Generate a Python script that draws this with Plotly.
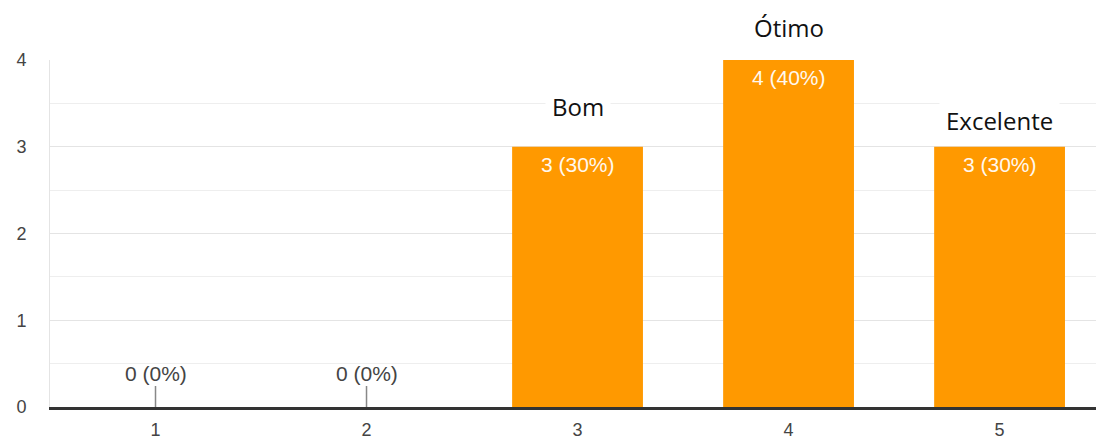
import plotly.graph_objects as go

# Survey answers on a 1-5 scale
categories = [1, 2, 3, 4, 5]
counts = [0, 0, 3, 4, 3]
rating_names = {3: "Bom", 4: "Ótimo", 5: "Excelente"}
name_shift = {3: 40, 4: 33, 5: 26}  # vertical offset (px) of each rating name above its bar
y_ticks = [0, 1, 2, 3, 4]

total = sum(counts)
labels = [f"{c} ({round(100 * c / total)}%)" for c in counts]

ORANGE = "#ff9900"
SANS = "Liberation Sans, Arial, sans-serif"
AXIS_FONT = dict(family=SANS, size=18, color="#444444")

fig = go.Figure()
fig.add_trace(go.Bar(
    x=categories,
    y=counts,
    width=0.62,
    marker=dict(color=ORANGE, line=dict(width=0)),
    hoverinfo="skip",
))

annotations = []
for cat, cnt, lab in zip(categories, counts, labels):
    if cnt > 0:
        # count/percentage written in white just inside the top of the bar
        annotations.append(dict(
            x=cat, y=cnt, xref="x", yref="y", text=lab, showarrow=False,
            yanchor="top", yshift=-4,
            font=dict(family=SANS, size=21, color="#fff8ee"),
        ))
    else:
        # empty category: label sits above a short marker stub
        annotations.append(dict(
            x=cat, y=cnt, xref="x", yref="y", text=lab, showarrow=True,
            arrowhead=0, arrowwidth=1.5, arrowcolor="#888888",
            ax=0, ay=-34, standoff=0,
            font=dict(family=SANS, size=21, color="#444444"),
        ))

for cat, cnt in zip(categories, counts):
    if cat in rating_names:
        annotations.append(dict(
            x=cat, y=cnt, xref="x", yref="y", text=rating_names[cat], showarrow=False,
            yanchor="middle", yshift=name_shift[cat],
            bgcolor="white", borderpad=6,
            font=dict(family="Open Sans, Noto Sans, sans-serif", size=24, color="#111111"),
        ))

fig.update_layout(
    width=1096,
    height=441,
    margin=dict(l=50, r=0, t=60, b=34),
    paper_bgcolor="white",
    plot_bgcolor="white",
    showlegend=False,
    annotations=annotations,
    xaxis=dict(
        range=[0.5, 5.457],
        tickvals=categories,
        ticktext=[str(c) for c in categories],
        showgrid=False,
        zeroline=False,
        showline=True,
        linecolor="#333333",
        linewidth=2.5,
        ticks="",
        ticklabelstandoff=5,
        tickfont=AXIS_FONT,
        automargin=False,
        fixedrange=True,
    ),
    yaxis=dict(
        range=[0, 4],
        tickvals=y_ticks,
        showgrid=True,
        gridcolor="#e4e4e4",
        gridwidth=1,
        minor=dict(dtick=0.5, showgrid=True, gridcolor="#eeeeee", gridwidth=1),
        zeroline=False,
        showline=True,
        linecolor="#e4e4e4",
        linewidth=1,
        ticks="",
        ticklabelstandoff=19,
        tickfont=AXIS_FONT,
        automargin=False,
        fixedrange=True,
    ),
)

fig.write_html("out.html")
